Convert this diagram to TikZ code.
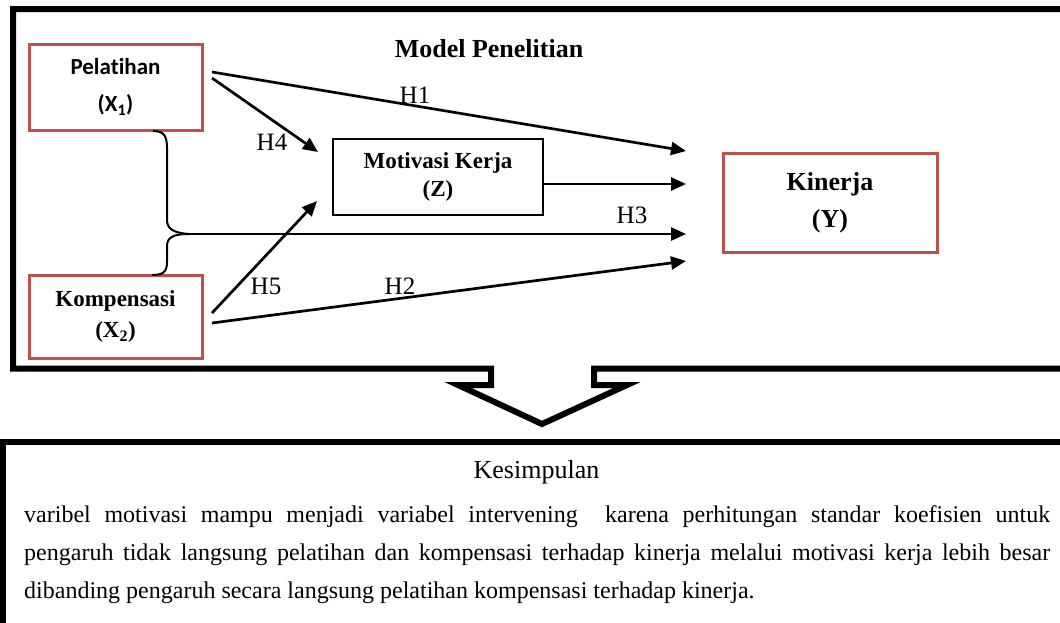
\documentclass[tikz,border=0pt]{standalone}
\usepackage{fontspec}
\setmainfont{Liberation Serif}
\newfontfamily\calibri[Ligatures=NoCommon]{Carlito}
\usetikzlibrary{arrows.meta}
\definecolor{boxred}{RGB}{192,80,77}

\begin{document}
\begin{tikzpicture}[x=1pt,y=-1pt,
    varbox/.style={draw=boxred,line width=3,minimum width=173,align=center,inner sep=0,outer sep=0},
    midbox/.style={draw,line width=2.7,minimum width=210,minimum height=76,align=center,inner sep=0,outer sep=0},
    arr/.style={line width=2.7,-{Triangle[length=15,width=13]}},
    hlab/.style={font=\fontsize{25}{25}\selectfont,inner sep=0}]
    \clip (0,0) rectangle (1060,622);
    \draw[line width=6] (1075,9) -- (13,9) -- (13,368.5) -- (491,368.5) -- (491,385) -- (458,385) -- (542,424) -- (627,385) -- (594,385) -- (594,368.5) -- (1075,368.5);
    \draw[line width=6] (1075,441.5) -- (2.5,441.5) -- (2.5,640);
    \node[anchor=base,font=\bfseries\fontsize{26}{26}\selectfont] (judul) at (489,57) {Model Penelitian};
    \node[varbox,minimum height=86,font={\calibri\bfseries\fontsize{23}{37}\selectfont}] (pel) at (115.5,87) {Pelatihan\\(X\textsubscript{1})};
    \node[varbox,minimum height=83,font={\bfseries\fontsize{23}{31}\selectfont}] (komp) at (115.5,316.5) {Kompensasi\\(X\textsubscript{2})};
    \node[midbox,font={\bfseries\fontsize{23}{28}\selectfont}] (mot) at (438,177) {Motivasi Kerja\\(Z)};
    \node[varbox,minimum width=214,minimum height=99,font={\bfseries\fontsize{26}{37}\selectfont}] (kin) at (830,202.5) {Kinerja\\(Y)};
    \coordinate (t1) at (686,151);
    \coordinate (tz) at (686,184);
    \coordinate (t3) at (686,234);
    \coordinate (t2) at (686,261);
    \coordinate (t4) at (318,152);
    \coordinate (t5) at (317,201);
    \coordinate (br) at (189,234);
    \draw[line width=2] (153,131) .. controls (164,131) and (167,136) .. (167,148) -- (167,220) .. controls (167,229) and (174,233) .. (br);
    \draw[line width=2] (br) .. controls (174,234) and (167,237) .. (167,246) -- (167,262) .. controls (167,272) and (163,275) .. (152,275);
    \draw[arr] ([shift={(10,-15)}]pel.east) -- (t1);
    \draw[arr] ([shift={(10,-9)}]pel.east) -- (t4);
    \draw[arr] ([shift={(0,7)}]mot.east) -- (tz);
    \draw[arr] (br) -- (t3);
    \draw[arr] ([shift={(10,6.5)}]komp.east) -- (t2);
    \draw[arr] ([shift={(10,-3.5)}]komp.east) -- (t5);
    \node[hlab] (h1) at (415,95) {H1};
    \node[hlab] (h4) at (272,142) {H4};
    \node[hlab] (h3) at (632,215) {H3};
    \node[hlab] (h2) at (400,286) {H2};
    \node[hlab] (h5) at (266,286) {H5};
    \node[anchor=base,font=\fontsize{26}{26}\selectfont] (kes) at (536.5,478) {Kesimpulan};
    \node[anchor=base west,text width=1026,align=justify,inner sep=0,font=\fontsize{24}{38}\selectfont] (isi) at (24,522) {varibel motivasi mampu menjadi variabel intervening\ \ karena perhitungan standar koefisien untuk\linebreak pengaruh tidak langsung pelatihan dan kompensasi terhadap kinerja melalui motivasi kerja lebih besar\linebreak dibanding pengaruh secara langsung pelatihan kompensasi terhadap kinerja.};
\end{tikzpicture}
\end{document}
